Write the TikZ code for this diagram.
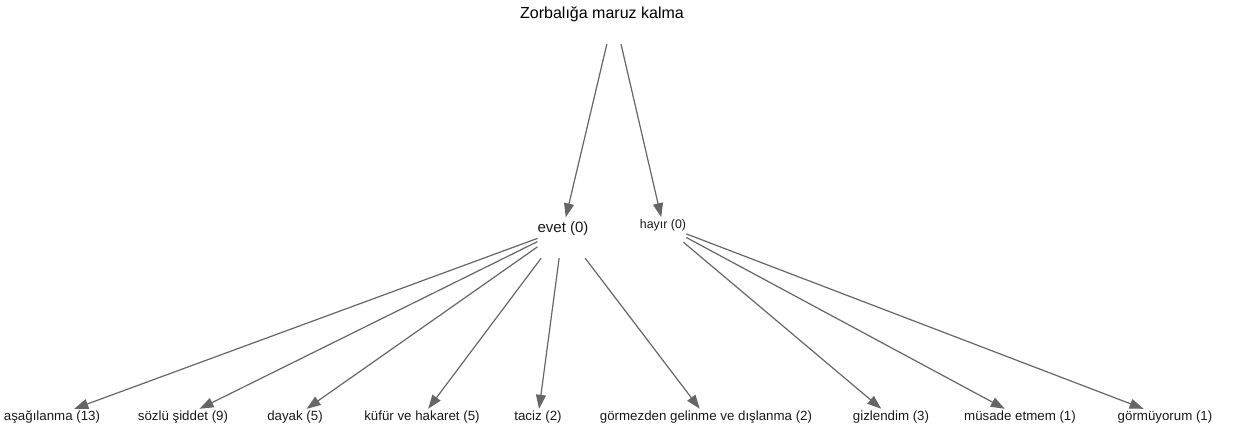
\documentclass[tikz,border=0pt]{standalone}
\usepackage{fontspec}
\setmainfont{Liberation Sans}
\usetikzlibrary{arrows.meta}
\definecolor{edgegray}{RGB}{102,102,102}
\definecolor{txt}{RGB}{25,25,25}

\begin{document}
\begin{tikzpicture}[x=1pt,y=-1pt,
    leaf/.style={inner sep=0pt, minimum height=16pt, font=\fontsize{13.3}{15}\selectfont, text=txt},
    edge/.style={-{Triangle[length=14pt,width=10pt]}, draw=edgegray, fill=edgegray, line width=1.2pt}]
    \useasboundingbox (0,0) rectangle (1233,430);

    \node (top) at (602,14) {\fontsize{16}{18}\selectfont Zorbalığa maruz kalma};
    \node[inner sep=0pt, minimum width=46pt, minimum height=58pt, text=txt] (evet) at (563,229) {\fontsize{15}{17}\selectfont evet (0)};
    \node[inner sep=0pt, minimum width=40pt, minimum height=34pt, text=txt] (hayir) at (663,225) {\fontsize{12.4}{14}\selectfont hayır (0)};

    \node[leaf] (asag) at (52,417) {aşağılanma (13)};
    \node[leaf] (sozlu) at (183,417) {sözlü şiddet (9)};
    \node[leaf] (dayak) at (295,417) {dayak (5)};
    \node[leaf] (kufur) at (422,417) {küfür ve hakaret (5)};
    \node[leaf] (taciz) at (538,417) {taciz (2)};
    \node[leaf] (gorm) at (706,417) {görmezden gelinme ve dışlanma (2)};
    \node[leaf] (gizl) at (891,417) {gizlendim (3)};
    \node[leaf] (musade) at (1020,417) {müsade etmem (1)};
    \node[leaf] (gormuy) at (1165,417) {görmüyorum (1)};

    \draw[edge, shorten <=31pt, shorten >=12pt] ([xshift=12pt]top.center) -- (evet.center);
    \draw[edge, shorten <=31pt, shorten >=8pt] ([xshift=12pt]top.center) -- (hayir.center);

    \path[edge]
    (evet) edge (asag)
    (evet) edge (sozlu)
    (evet) edge (dayak)
    (evet) edge (kufur)
    (evet) edge (taciz)
    (evet) edge (gorm)
    (hayir) edge (gizl)
    (hayir) edge (musade)
    (hayir) edge (gormuy);

\end{tikzpicture}
\end{document}
